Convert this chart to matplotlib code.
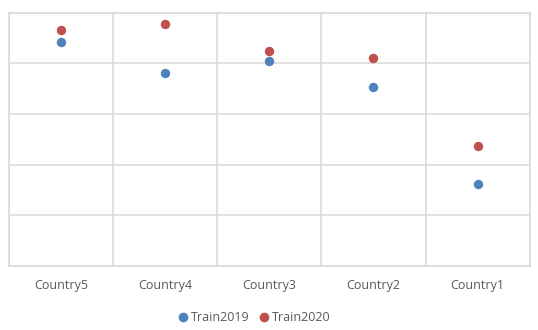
import matplotlib
matplotlib.use("Agg")
import matplotlib.pyplot as plt
from matplotlib.lines import Line2D

categories = ["Country5", "Country4", "Country3", "Country2", "Country1"]
train2019 = [88.4, 76.3, 80.8, 70.5, 32.4]
train2020 = [93.2, 95.7, 84.9, 82.0, 47.5]

W, H = 538, 330
fig = plt.figure(figsize=(W / 100, H / 100), dpi=100)
left, right, top, bottom = 8.7, 529.7, 12.7, 266
ax = fig.add_axes([left / W, 1 - bottom / H, (right - left) / W, (bottom - top) / H])

grid_c = "#D9D9D9"
x = list(range(len(categories)))
ax.scatter(x, train2019, s=46, color="#4F81BD", zorder=3, linewidths=0)
ax.scatter(x, train2020, s=46, color="#C0504D", zorder=3, linewidths=0)

ax.set_xlim(-0.5, len(categories) - 0.5)
ax.set_ylim(0, 100)
ax.set_yticks([0, 20, 40, 60, 80, 100])
ax.set_xticks([i + 0.5 for i in range(-1, len(categories))], minor=False)
ax.set_xticklabels([])
ax.set_xticks(x, minor=True)
ax.set_xticklabels(categories, minor=True, color="#595959", fontsize=9,
                   family=["Open Sans", "DejaVu Sans"])
ax.tick_params(axis="x", which="both", length=0, pad=9)
ax.tick_params(axis="y", length=0, labelleft=False)
ax.grid(True, which="major", color=grid_c, linewidth=1.1)
ax.set_axisbelow(True)
for s in ax.spines.values():
    s.set_color(grid_c)
    s.set_linewidth(1.1)

handles = [
    Line2D([], [], marker="o", linestyle="none", markersize=7, color="#4F81BD", markeredgewidth=0),
    Line2D([], [], marker="o", linestyle="none", markersize=7, color="#C0504D", markeredgewidth=0),
]
fig.legend(handles, ["Train2019", "Train2020"], loc="center", bbox_to_anchor=(0.47, 1 - 317.5 / H),
           ncol=2, frameon=False, handletextpad=0.0, columnspacing=0.6, handlelength=1.2,
           prop={"family": ["Open Sans", "DejaVu Sans"], "size": 9}, labelcolor="#595959")

fig.savefig("out.png", dpi=100, facecolor="white")
